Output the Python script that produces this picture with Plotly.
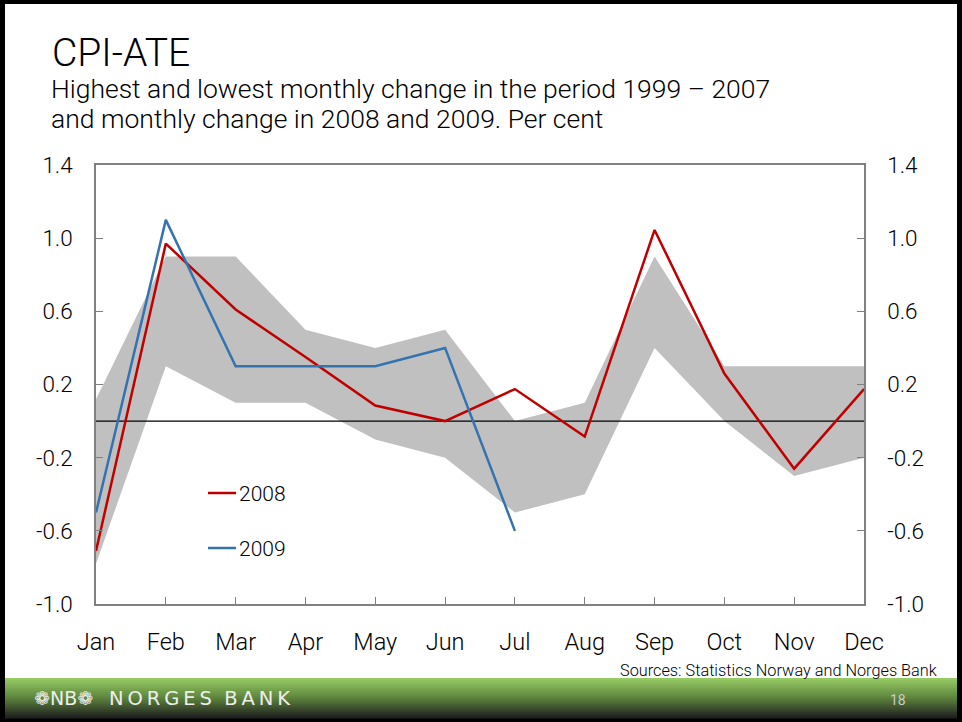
import plotly.graph_objects as go

months = ["Jan", "Feb", "Mar", "Apr", "May", "Jun", "Jul", "Aug", "Sep", "Oct", "Nov", "Dec"]
band_high = [0.12, 0.90, 0.90, 0.50, 0.40, 0.50, 0.00, 0.10, 0.90, 0.30, 0.30, 0.30]
band_low = [-0.78, 0.30, 0.10, 0.10, -0.10, -0.20, -0.50, -0.40, 0.40, 0.00, -0.30, -0.20]
y2008 = [-0.71, 0.97, 0.61, 0.35, 0.085, 0.00, 0.175, -0.085, 1.045, 0.26, -0.26, 0.175]
y2009 = [-0.50, 1.10, 0.30, 0.30, 0.30, 0.40, -0.60]
zero_line = [0.0] * 12
y_ticks = [-1.0, -0.6, -0.2, 0.2, 0.6, 1.0, 1.4]
y_tick_labels = ["-1.0", "-0.6", "-0.2", "0.2", "0.6", "1.0", "1.4"]

W, H = 962, 722
ML, MR, MT, MB = 96, 98, 165, 118
PW, PH = W - ML - MR, H - MT - MB
FONT = "Roboto"
RED = "#C00000"
BLUE = "#3473B0"


def px(x):
    return (x - ML) / PW


def py(y):
    return (H - MB - y) / PH


x_idx = list(range(12))

fig = go.Figure()
fig.add_trace(go.Scatter(x=x_idx, y=band_low, mode="lines", line=dict(width=0, color="#C0C0C0"),
                         showlegend=False, hoverinfo="skip"))
fig.add_trace(go.Scatter(x=x_idx, y=band_high, mode="lines", line=dict(width=0, color="#C0C0C0"),
                         fill="tonexty", fillcolor="#C0C0C0", showlegend=False, hoverinfo="skip"))
fig.add_trace(go.Scatter(x=x_idx, y=zero_line, mode="lines", line=dict(width=1.2, color="black"),
                         showlegend=False, hoverinfo="skip"))
fig.add_trace(go.Scatter(x=x_idx, y=y2008, mode="lines", line=dict(width=2.5, color=RED), name="2008",
                         showlegend=False))
fig.add_trace(go.Scatter(x=x_idx[:len(y2009)], y=y2009, mode="lines", line=dict(width=2.5, color=BLUE),
                         name="2009", showlegend=False))
# invisible trace to activate right axis
fig.add_trace(go.Scatter(x=[0, 11], y=[-1.0, 1.4], yaxis="y2", mode="lines", line=dict(width=0),
                         showlegend=False, hoverinfo="skip"))

shapes = []
# white page inside the black frame
shapes.append(dict(type="rect", xref="paper", yref="paper", x0=px(5), x1=px(957), y0=py(678), y1=py(4),
                   fillcolor="white", line=dict(width=0), layer="below"))
# footer gradient
top_c = (150, 202, 98)
mid_c = (92, 132, 60)
bot_c = (32, 34, 32)
n = 20
y_top, y_bot = 678, 718
for i in range(n):
    t = i / (n - 1)
    if t < 0.5:
        u = t / 0.5
        c = [int(top_c[k] + (mid_c[k] - top_c[k]) * u) for k in range(3)]
    else:
        u = (t - 0.5) / 0.5
        c = [int(mid_c[k] + (bot_c[k] - mid_c[k]) * u) for k in range(3)]
    ya = y_top + (y_bot - y_top) * i / n
    yb = y_top + (y_bot - y_top) * (i + 1) / n + 0.5
    shapes.append(dict(type="rect", xref="paper", yref="paper", x0=px(5), x1=px(957), y0=py(yb), y1=py(ya),
                       fillcolor="rgb(%d,%d,%d)" % tuple(c), line=dict(width=0), layer="below"))
# legend line samples
shapes.append(dict(type="line", xref="paper", yref="paper", x0=px(208), x1=px(236), y0=py(493), y1=py(493),
                   line=dict(color=RED, width=2.5)))
shapes.append(dict(type="line", xref="paper", yref="paper", x0=px(208), x1=px(236), y0=py(548), y1=py(548),
                   line=dict(color=BLUE, width=2.5)))

thin = "\u2009"
bank_text = thin.join("NORGES") + "  " + thin.join("BANK")

annotations = [
    dict(text="CPI-ATE", x=px(50), y=py(53), xref="paper", yref="paper", xanchor="left", yanchor="middle",
         showarrow=False, font=dict(family=FONT, size=39, color="black", weight=300)),
    dict(text="Highest and lowest monthly change in the period 1999 \u2013 2007", x=px(49), y=py(88),
         xref="paper", yref="paper", xanchor="left", yanchor="middle", showarrow=False,
         font=dict(family=FONT, size=26.5, color="black", weight=300)),
    dict(text="and monthly change in 2008 and 2009. Per cent", x=px(49), y=py(118.5),
         xref="paper", yref="paper", xanchor="left", yanchor="middle", showarrow=False,
         font=dict(family=FONT, size=26.5, color="black", weight=300)),
    dict(text="2008", x=px(237), y=py(494), xref="paper", yref="paper", xanchor="left", yanchor="middle",
         showarrow=False, font=dict(family=FONT, size=21, color="black", weight=300)),
    dict(text="2009", x=px(237), y=py(549), xref="paper", yref="paper", xanchor="left", yanchor="middle",
         showarrow=False, font=dict(family=FONT, size=21, color="black", weight=300)),
    dict(text="Sources: Statistics Norway and Norges Bank", x=px(939), y=py(670), xref="paper", yref="paper",
         xanchor="right", yanchor="middle", showarrow=False,
         font=dict(family=FONT, size=16.3, color="black", weight=300)),
    dict(text="\u2741NB\u2741", x=px(32), y=py(698), xref="paper", yref="paper",
         xanchor="left", yanchor="middle", showarrow=False,
         font=dict(family="DejaVu Sans", size=19, color="#EEEEEE")),
    dict(text=bank_text, x=px(107), y=py(698), xref="paper", yref="paper",
         xanchor="left", yanchor="middle", showarrow=False,
         font=dict(family="DejaVu Sans", size=19.5, color="#EEEEEE")),
    dict(text="18", x=px(898), y=py(700), xref="paper", yref="paper", xanchor="center", yanchor="middle",
         showarrow=False, font=dict(family=FONT, size=14, color="#CCCCCC")),
]

xtickfont = dict(family=FONT, size=23.5, color="black", weight=300)
ytickfont = dict(family=FONT, size=22.5, color="black", weight=300)
fig.update_layout(
    width=W, height=H,
    margin=dict(l=ML, r=MR, t=MT, b=MB, pad=0),
    paper_bgcolor="black", plot_bgcolor="white",
    showlegend=False,
    shapes=shapes, annotations=annotations,
    xaxis=dict(range=[0, 11], tickmode="array", tickvals=x_idx, ticktext=months,
               showgrid=False, zeroline=False, showline=True, linecolor="#808080", linewidth=1.5,
               mirror=True, ticks="inside", ticklen=7, tickcolor="#808080", tickwidth=1,
               tickfont=xtickfont, ticklabelstandoff=16),
    yaxis=dict(range=[-1.0, 1.4], tickmode="array", tickvals=y_ticks, ticktext=y_tick_labels,
               showgrid=False, zeroline=False, showline=True, linecolor="#808080", linewidth=1.5,
               ticks="inside", ticklen=7, tickcolor="#808080", tickwidth=1,
               tickfont=ytickfont, ticklabelstandoff=17),
    yaxis2=dict(range=[-1.0, 1.4], tickmode="array", tickvals=y_ticks, ticktext=y_tick_labels,
                overlaying="y", side="right",
                showgrid=False, zeroline=False, showline=True, linecolor="#808080", linewidth=1.5,
                ticks="inside", ticklen=7, tickcolor="#808080", tickwidth=1,
                tickfont=ytickfont, ticklabelstandoff=17),
)

fig.write_html("out.html", config={"displayModeBar": False},
               post_script="document.body.style.margin='0';document.body.style.overflow='hidden';")
